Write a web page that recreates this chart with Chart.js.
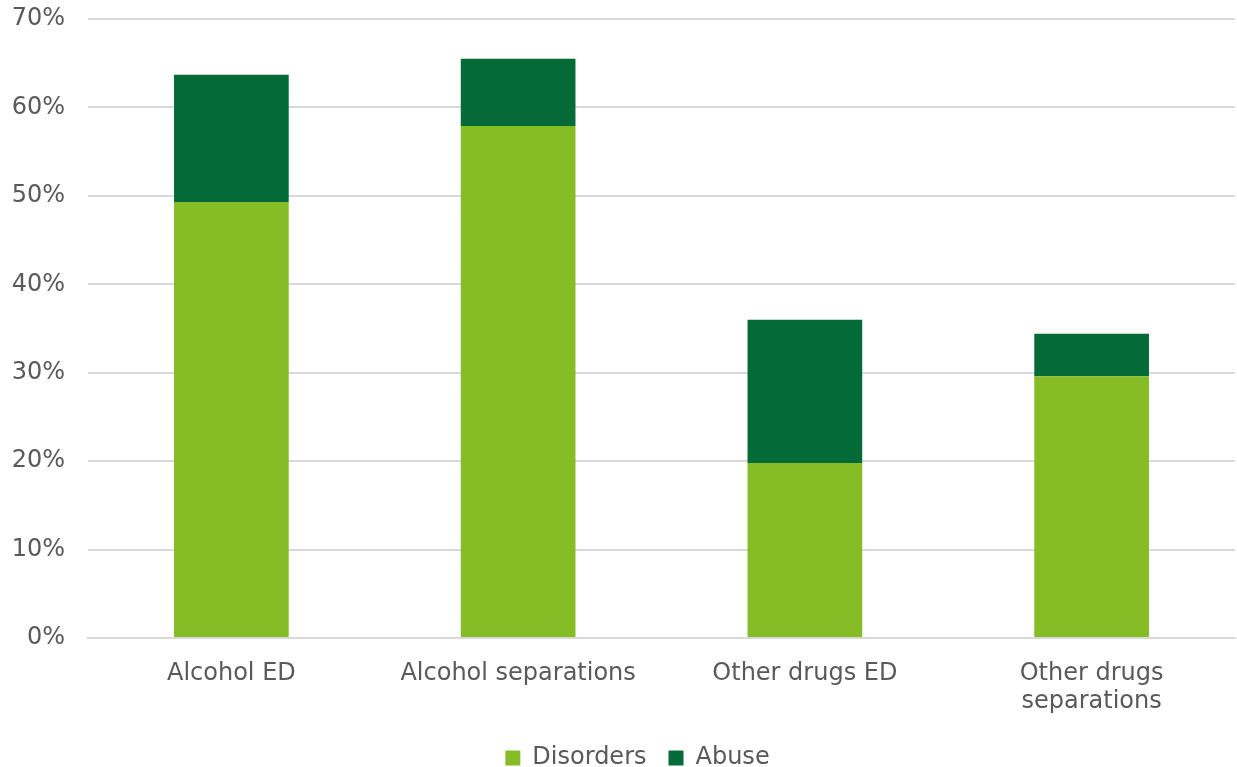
<!DOCTYPE html>
<html>
<head>
<meta charset="utf-8">
<script src="https://cdn.jsdelivr.net/npm/chart.js@4"></script>
<style>
  html, body { margin: 0; padding: 0; background: #fff; }
</style>
</head>
<body>
<canvas id="chart" width="1237" height="767"></canvas>
<script>
const categories = ['Alcohol ED', 'Alcohol separations', 'Other drugs ED', ['Other drugs', 'separations']];
const disorders = [49.3, 57.9, 19.8, 29.6];
const abuse = [14.4, 7.6, 16.2, 4.8];
const yTicks = [0, 10, 20, 30, 40, 50, 60, 70];

const gray = '#595959';
Chart.defaults.font.family = '"DejaVu Sans", Verdana, sans-serif';
Chart.defaults.font.size = 24;
Chart.defaults.color = gray;

// legend sits a little right of the canvas centre in the original
const legendShift = {
  id: 'legendShift',
  afterLayout(chart) {
    chart.legend.left += 20;
    chart.legend.right += 20;
  }
};

new Chart(document.getElementById('chart'), {
  type: 'bar',
  data: {
    labels: categories,
    datasets: [
      { label: 'Disorders', data: disorders, backgroundColor: '#86bc25', barPercentage: 0.4, categoryPercentage: 1 },
      { label: 'Abuse', data: abuse, backgroundColor: '#046a38', barPercentage: 0.4, categoryPercentage: 1 }
    ]
  },
  plugins: [legendShift],
  options: {
    responsive: false,
    animation: false,
    layout: { padding: { top: 19, right: 2, left: 0, bottom: 0 } },
    plugins: {
      tooltip: { enabled: false },
      legend: {
        position: 'bottom',
        maxHeight: 43,
        labels: { boxWidth: 15, boxHeight: 15, padding: 22, font: { size: 24 } }
      }
    },
    scales: {
      x: {
        stacked: true,
        grid: { display: false, drawTicks: false },
        border: { color: '#d9d9d9', width: 2 },
        ticks: { padding: 22, maxRotation: 0, font: { size: 24, lineHeight: 1.17 } },
        afterFit: (s) => { s.height = 86; }
      },
      y: {
        stacked: true,
        min: 0,
        max: 70,
        afterBuildTicks: (s) => { s.ticks = yTicks.map(v => ({ value: v })); },
        grid: { color: '#d9d9d9', lineWidth: 2, drawTicks: false },
        border: { display: false },
        ticks: { padding: 23, callback: (v) => v + '%', font: { size: 24 } },
        afterFit: (s) => { s.width = 88; s.paddingTop = 0; s.paddingBottom = 0; }
      }
    }
  }
});
</script>
</body>
</html>
